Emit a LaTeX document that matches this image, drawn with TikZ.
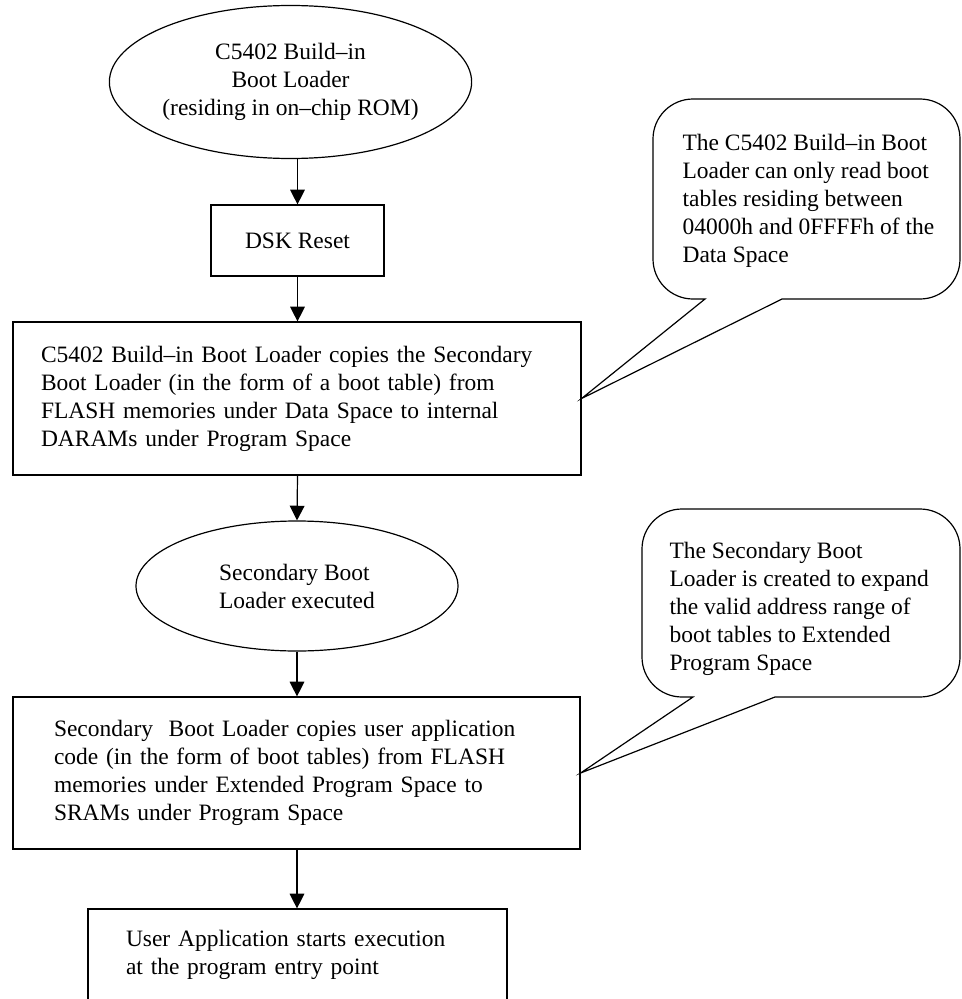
\documentclass[tikz,border=0pt]{standalone}
\usepackage{fontspec}
\setmainfont{Liberation Serif}
\usetikzlibrary{shapes.geometric}
\usetikzlibrary{arrows.meta}

\begin{document}
\begin{tikzpicture}[x=0.75pt,y=-0.75pt,line width=0.9pt,
        font=\fontsize{17.6}{21}\selectfont,
        stepbox/.style={draw, rectangle, inner ysep=0pt},
        bubble/.style={draw, ellipse, inner sep=0pt},
        flow/.style={-{Triangle[width=11pt,length=11pt]}},
        notetext/.style={align=left, inner sep=0pt, anchor=west},
        callout/.style={draw, line join=miter}]
        \useasboundingbox (0,0) rectangle (961,999);
        \begin{scope}
            \node [bubble, minimum width=249.75pt, minimum height=114.75pt, align=center] (rom) at (290.5,82) {C5402 Build--in\\Boot Loader\\(residing in on--chip ROM)};
            \node [stepbox, minimum width=129.75pt, minimum height=53.25pt] (reset) at (297.5,240.5) {DSK Reset};
            \node [stepbox, text width=384pt, inner xsep=21pt, minimum height=114.75pt, align=left] (copyone) at (297,398.5) {C5402 Build--in Boot Loader copies the Secondary\\Boot Loader (in the form of a boot table) from\\FLASH memories under Data Space to internal\\DARAMs under Program Space};
            \node [bubble, minimum width=241.5pt, minimum height=97.5pt, align=left] (second) at (297,586) {Secondary Boot\\Loader executed};
            \node [stepbox, text width=363.75pt, inner xsep=30.75pt, minimum height=114pt, align=left] (copytwo) at (296.5,773) {Secondary\ \ Boot Loader copies user application\\code (in the form of boot tables) from FLASH\\memories under Extended Program Space to\\SRAMs under Program Space};
            \node [stepbox, text width=257.25pt, inner xsep=28.5pt, minimum height=69pt, align=left] (start) at (297.5,955) {User Application starts execution\\at the program entry point};

            \draw [flow] (reset.north |- rom.south) -- (reset.north);
            \draw [flow] (reset.south) -- (reset.south |- copyone.north);
            \draw [flow] (reset.south |- copyone.south) -- (second.north);
            \draw [flow] (second.south) -- (second.south |- copytwo.north);
            \draw [flow] (second.south |- copytwo.south) -- (second.south |- start.north);
        \end{scope}
        \begin{scope}
            % callouts
            \node [notetext] (noteone) at (682,201) {The C5402 Build--in Boot\\Loader can only read boot\\tables residing between\\04000h and 0FFFFh of the\\Data Space};
            \draw [callout, rounded corners=30pt] (782,299) -- (960,299) -- (960,99) -- (653,99) -- (653,299) [sharp corners] -- (705,299) -- (copyone.east) -- cycle;
            \node [notetext] (notetwo) at (669,609) {The Secondary Boot\\Loader is created to expand\\the valid address range of\\boot tables to Extended\\Program Space};
            \draw [callout, rounded corners=30pt] (775,697) -- (960,697) -- (960,509) -- (642,509) -- (642,697) [sharp corners] -- (693,697) -- (copytwo.east) -- cycle;
        \end{scope}
    \end{tikzpicture}
\end{document}
